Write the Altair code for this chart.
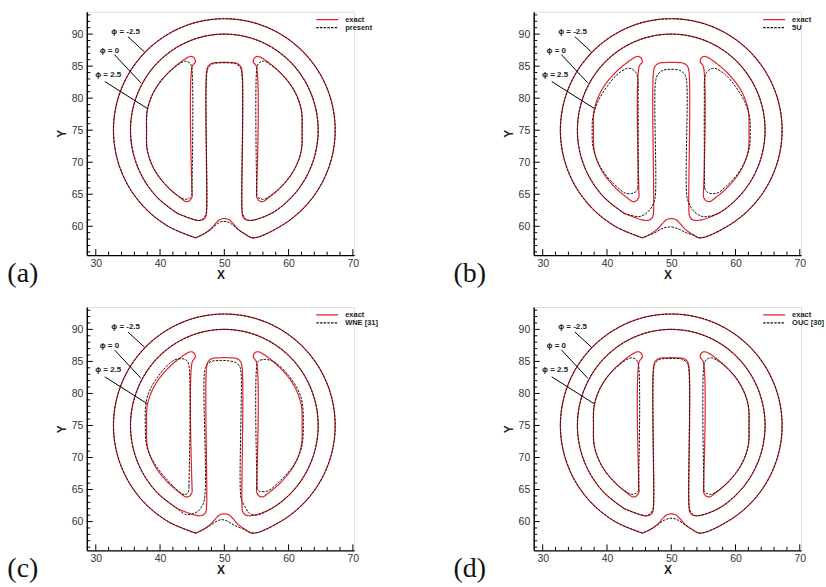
import altair as alt
import pandas as pd

# ---------------------------------------------------------------------------
# Contour coordinates (Zalesak slotted disk after one revolution)
# ---------------------------------------------------------------------------

# phi = -2.5 : outer ring, clockwise from bottom-left of the notch bump
OUTER_ARC_X = [45.53, 41.38, 37.80, 35.06, 33.34, 32.75, 33.34, 35.06, 37.80, 41.38, 45.53, 50.00,
               54.47, 58.62, 62.20, 64.94, 66.66, 67.25, 66.66, 64.94, 62.20, 58.62, 54.47]
OUTER_ARC_Y = [58.19, 59.93, 62.70, 66.30, 70.49, 75.00, 79.51, 83.70, 87.30, 90.07, 91.81, 92.40,
               91.81, 90.07, 87.30, 83.70, 79.51, 75.00, 70.49, 66.30, 62.70, 59.93, 58.19]

# bump under the slot (right to left)
BUMP_EXACT_X = [53.2, 52.1, 51.3, 50.6, 49.4, 48.7, 47.9, 46.8]
BUMP_EXACT_Y = [58.8, 59.6, 60.5, 61.1, 61.1, 60.5, 59.6, 58.8]
BUMP_A_X = [53.2, 52.1, 51.2, 50.5, 49.5, 48.8, 47.9, 46.8]
BUMP_A_Y = [58.8, 59.5, 60.3, 60.7, 60.7, 60.3, 59.5, 58.8]
BUMP_B_X = [53.5, 52.3, 51.1, 49.8, 48.5, 47.5, 46.5]
BUMP_B_Y = [58.6, 59.0, 59.6, 59.9, 59.6, 59.0, 58.6]
BUMP_C_X = [53.0, 51.6, 50.4, 49.6, 48.9, 47.8, 46.6]
BUMP_C_Y = [58.8, 59.4, 60.1, 60.3, 60.1, 59.4, 58.7]
BUMP_D_X = [53.2, 52.1, 51.1, 50.3, 49.7, 48.9, 47.9, 46.8]
BUMP_D_Y = [58.8, 59.5, 60.2, 60.5, 60.5, 60.2, 59.5, 58.8]

# phi = 0 : disk boundary, clockwise from bottom-left of the disk
MID_ARC_X = [42.70, 39.68, 37.36, 35.90, 35.40, 35.90, 37.36, 39.68, 42.70, 46.22, 50.00,
             53.78, 57.30, 60.32, 62.64, 64.10, 64.60, 64.10, 62.64, 60.32, 57.30]
MID_ARC_Y = [62.01, 64.39, 67.50, 71.12, 75.00, 78.88, 82.50, 85.61, 87.99, 89.49, 90.00,
             89.49, 87.99, 85.61, 82.50, 78.88, 75.00, 71.12, 67.50, 64.39, 62.01]

# slot of the disk: bottom right, up the right wall, across the top, down the left wall
SLOT_EXACT_X = [54.0, 53.2, 52.85, 52.75, 52.75, 52.5, 51.9, 51.2, 48.8, 48.1, 47.5, 47.25, 47.25, 47.15, 46.8, 46.0]
SLOT_EXACT_Y = [60.9, 61.1, 61.6, 62.5, 84.2, 85.0, 85.45, 85.55, 85.55, 85.45, 85.0, 84.2, 62.5, 61.6, 61.1, 60.9]
SLOT_A_X = [54.0, 53.3, 52.9, 52.75, 52.7, 52.4, 51.7, 50.8, 49.2, 48.3, 47.6, 47.3, 47.25, 47.1, 46.7, 46.0]
SLOT_A_Y = [60.9, 61.2, 61.8, 62.8, 84.0, 84.9, 85.4, 85.5, 85.5, 85.4, 84.9, 84.0, 62.8, 61.8, 61.2, 60.9]
SLOT_B_X = [55.1, 54.2, 53.3, 52.8, 52.45, 52.4, 52.1, 51.3, 50.0, 48.7, 47.9, 47.55, 47.5, 47.2, 46.7, 45.8, 44.9]
SLOT_B_Y = [61.5, 61.8, 62.6, 63.5, 64.5, 82.5, 83.7, 84.35, 84.5, 84.35, 83.7, 82.5, 64.5, 63.5, 62.6, 61.8, 61.5]
SLOT_C_X = [55.0, 53.9, 53.4, 52.9, 52.6, 52.6, 52.4, 51.8, 50.6, 49.2, 48.0, 47.3, 46.95, 46.9, 46.4, 45.9, 45.0, 44.0]
SLOT_C_Y = [61.0, 61.3, 62.0, 62.9, 63.6, 83.3, 84.2, 84.8, 85.1, 85.15, 85.0, 84.5, 83.6, 63.4, 62.2, 61.6, 61.2, 61.1]
SLOT_D_X = [54.0, 53.3, 52.9, 52.75, 52.7, 52.4, 51.7, 50.8, 49.2, 48.3, 47.6, 47.3, 47.25, 47.1, 46.7, 46.0]
SLOT_D_Y = [60.9, 61.2, 61.8, 62.8, 84.0, 84.85, 85.35, 85.45, 85.45, 85.35, 84.85, 84.0, 62.8, 61.8, 61.2, 60.9]

# phi = 2.5 : left and right lobes
DL_EXACT_X = [45.0, 45.0, 45.5, 45.2, 44.7, 43.8, 41.16, 39.17, 38.05, 37.9, 38.05, 39.17, 41.16, 43.2, 44.0, 44.6]
DL_EXACT_Y = [64.6, 84.9, 85.7, 86.4, 86.5, 86.05, 83.84, 81.25, 78.3, 75.0, 71.7, 68.75, 66.16, 64.4, 63.85, 64.0]
DR_EXACT_X = [55.0, 55.0, 54.5, 54.8, 55.3, 56.2, 58.84, 60.83, 61.95, 62.1, 61.95, 60.83, 58.84, 56.8, 56.0, 55.4]
DR_EXACT_Y = [64.6, 84.9, 85.7, 86.4, 86.5, 86.05, 83.84, 81.25, 78.3, 75.0, 71.7, 68.75, 66.16, 64.4, 63.85, 64.0]

DL_A_X = [44.95, 44.95, 44.7, 44.1, 43.6, 41.16, 39.17, 38.05, 37.9, 38.05, 39.17, 41.16, 43.2, 43.9, 44.6]
DL_A_Y = [64.8, 84.6, 85.4, 85.75, 85.7, 83.84, 81.25, 78.3, 75.0, 71.7, 68.75, 66.16, 64.5, 64.2, 64.4]
DR_A_X = [55.05, 55.05, 55.3, 55.9, 56.4, 58.84, 60.83, 61.95, 62.1, 61.95, 60.83, 58.84, 56.8, 56.1, 55.4]
DR_A_Y = [64.8, 84.6, 85.4, 85.75, 85.7, 83.84, 81.25, 78.3, 75.0, 71.7, 68.75, 66.16, 64.5, 64.2, 64.4]

DL_B_X = [44.8, 44.85, 44.85, 44.8, 44.5, 43.8, 43.0, 41.5, 40.0, 38.6, 37.8, 37.7, 37.8, 38.5, 39.8, 41.5, 42.8, 43.8, 44.5]
DL_B_Y = [66.0, 70.0, 80.0, 83.0, 84.0, 84.6, 84.6, 83.6, 81.8, 79.5, 77.0, 75.0, 72.5, 70.2, 68.0, 66.2, 65.2, 65.1, 65.4]
DR_B_X = [55.2, 55.15, 55.15, 55.2, 55.5, 56.2, 57.0, 58.5, 60.0, 61.4, 62.2, 62.3, 62.2, 61.5, 60.2, 58.5, 57.2, 56.2, 55.5]
DR_B_Y = [66.0, 70.0, 80.0, 83.0, 84.0, 84.6, 84.6, 83.6, 81.8, 79.5, 77.0, 75.0, 72.5, 70.2, 68.0, 66.2, 65.2, 65.1, 65.4]

DL_C_X = [44.5, 44.5, 44.2, 43.6, 42.2, 39.8, 38.0, 37.7, 38.0, 39.3, 41.3, 43.3, 43.9, 44.4]
DL_C_Y = [65.5, 84.3, 85.1, 85.4, 85.2, 82.8, 79.4, 75.0, 71.5, 68.8, 66.3, 64.4, 64.2, 64.6]
DR_C_X = [55.1, 55.1, 55.4, 56.2, 57.6, 60.0, 61.9, 62.3, 62.0, 60.8, 58.8, 56.8, 55.6, 55.2]
DR_C_Y = [65.2, 84.6, 85.1, 85.3, 85.0, 82.8, 79.5, 75.0, 71.5, 68.8, 66.5, 64.8, 64.7, 64.9]

DL_D_X = [44.9, 44.9, 44.6, 44.0, 43.5, 41.16, 39.17, 38.05, 37.9, 38.05, 39.17, 41.16, 43.2, 43.9, 44.5]
DL_D_Y = [64.8, 84.5, 85.2, 85.55, 85.5, 83.84, 81.25, 78.3, 75.0, 71.7, 68.75, 66.16, 64.5, 64.25, 64.4]
DR_D_X = [55.1, 55.1, 55.4, 56.0, 56.5, 58.84, 60.83, 61.95, 62.1, 61.95, 60.83, 58.84, 56.8, 56.1, 55.5]
DR_D_Y = [64.8, 84.5, 85.2, 85.55, 85.5, 83.84, 81.25, 78.3, 75.0, 71.7, 68.75, 66.16, 64.5, 64.25, 64.4]

# Axis ticks
X_MAJOR = [30, 40, 50, 60, 70]
X_MINOR = [32, 34, 36, 38, 42, 44, 46, 48, 52, 54, 56, 58, 62, 64, 66, 68]
Y_MAJOR = [60, 65, 70, 75, 80, 85, 90]
Y_MINOR = [56, 57, 58, 59, 61, 62, 63, 64, 66, 67, 68, 69, 71, 72, 73, 74,
           76, 77, 78, 79, 81, 82, 83, 84, 86, 87, 88, 89, 91, 92, 93]

# Level annotations: label anchor and leader line end points
ANN_TEXT = ["ϕ = -2.5", "ϕ = 0", "ϕ = 2.5"]
ANN_TX = [32.4, 30.6, 29.9]
ANN_TY = [90.4, 87.4, 83.6]
ANN_X1 = [35.0, 32.9, 31.4]
ANN_Y1 = [89.6, 86.8, 82.6]
ANN_X2 = [37.6, 37.0, 38.0]
ANN_Y2 = [87.2, 82.4, 78.4]

PANELS = [
    dict(letter="(a)", name="present", bump=(BUMP_A_X, BUMP_A_Y), slot=(SLOT_A_X, SLOT_A_Y),
         dl=(DL_A_X, DL_A_Y), dr=(DR_A_X, DR_A_Y)),
    dict(letter="(b)", name="5U", bump=(BUMP_B_X, BUMP_B_Y), slot=(SLOT_B_X, SLOT_B_Y),
         dl=(DL_B_X, DL_B_Y), dr=(DR_B_X, DR_B_Y)),
    dict(letter="(c)", name="WNE [31]", bump=(BUMP_C_X, BUMP_C_Y), slot=(SLOT_C_X, SLOT_C_Y),
         dl=(DL_C_X, DL_C_Y), dr=(DR_C_X, DR_C_Y)),
    dict(letter="(d)", name="OUC [30]", bump=(BUMP_D_X, BUMP_D_Y), slot=(SLOT_D_X, SLOT_D_Y),
         dl=(DL_D_X, DL_D_Y), dr=(DR_D_X, DR_D_Y)),
]

RED = "#e3202b"
BLACK = "#151515"
SANS = "Liberation Sans"
W, H = 268, 244
X_SCALE = alt.Scale(domain=[28.6, 70.2], nice=False, zero=False)
Y_SCALE = alt.Scale(domain=[55.5, 93.5], nice=False, zero=False)

X_AXIS = alt.Axis(values=X_MAJOR, ticks=False, grid=False, domainColor="black", domainWidth=1.4,
                  labelFont=SANS, labelFontSize=10.5, labelColor="#333", labelPadding=3,
                  titleFont=SANS, titleFontSize=12, titleFontWeight="bold", titleColor="#222",
                  titlePadding=1, format="d")
Y_AXIS = alt.Axis(values=Y_MAJOR, ticks=False, grid=False, domainColor="black", domainWidth=1.4,
                  labelFont=SANS, labelFontSize=10.5, labelColor="#333", labelPadding=4,
                  titleFont=SANS, titleFontSize=12, titleFontWeight="bold", titleColor="#222",
                  titlePadding=3, format="d")


def xenc(field):
    return alt.X(field, scale=X_SCALE, axis=X_AXIS, title="X")


def yenc(field):
    return alt.Y(field, scale=Y_SCALE, axis=Y_AXIS, title="Y")


def joined(*parts):
    """Concatenate (xs, ys) pieces into one closed contour."""
    xs, ys = [], []
    for px, py in parts:
        xs += list(px)
        ys += list(py)
    return xs + xs[:1], ys + ys[:1]


def frame(series, contours):
    rows = []
    for k, (xs, ys) in enumerate(contours):
        for i, (x, y) in enumerate(zip(xs, ys)):
            rows.append({"series": series, "cid": f"{series}-{k}", "i": i, "x": x, "y": y})
    return pd.DataFrame(rows)


def contours(bump, slot, dl, dr):
    return [
        joined((OUTER_ARC_X, OUTER_ARC_Y), bump),
        joined((MID_ARC_X, MID_ARC_Y), slot),
        joined(dl),
        joined(dr),
    ]


def panel(p):
    exact = frame("exact", contours((BUMP_EXACT_X, BUMP_EXACT_Y), (SLOT_EXACT_X, SLOT_EXACT_Y),
                                    (DL_EXACT_X, DL_EXACT_Y), (DR_EXACT_X, DR_EXACT_Y)))
    numer = frame(p["name"], contours(p["bump"], p["slot"], p["dl"], p["dr"]))

    legend = alt.Legend(title=None, orient="none", legendX=229, legendY=4, symbolType="stroke",
                        symbolSize=484, symbolStrokeWidth=1.2, labelFont=SANS, labelFontSize=7.5,
                        labelFontWeight="bold", labelColor="#222", clipHeight=8, rowPadding=0,
                        padding=0, labelOffset=6)
    domain = ["exact", p["name"]]
    color = alt.Color("series:N", scale=alt.Scale(domain=domain, range=[RED, BLACK]), legend=legend)
    dash = alt.StrokeDash("series:N", scale=alt.Scale(domain=domain, range=[[1, 0], [2.5, 1.2]]),
                          legend=legend)

    def lines(df, width):
        return alt.Chart(df).mark_line(strokeWidth=width, interpolate="catmull-rom").encode(
            x=xenc("x:Q"), y=yenc("y:Q"),
            color=color, strokeDash=dash, detail="cid:N", order="i:Q")

    def yticks(vals, length):
        return alt.Chart(pd.DataFrame({"v": vals})).mark_rule(color="black", strokeWidth=1).encode(
            y=yenc("v:Q"), x=alt.value(0), x2=alt.value(length))

    def xticks(vals, length):
        return alt.Chart(pd.DataFrame({"v": vals})).mark_rule(color="black", strokeWidth=1).encode(
            x=xenc("v:Q"), y=alt.value(H), y2=alt.value(H - length))

    ann = pd.DataFrame({"t": ANN_TEXT, "tx": ANN_TX, "ty": ANN_TY,
                        "x1": ANN_X1, "y1": ANN_Y1, "x2": ANN_X2, "y2": ANN_Y2})
    leaders = alt.Chart(ann).mark_rule(color="black", strokeWidth=1).encode(
        x=xenc("x1:Q"), y=yenc("y1:Q"), x2="x2:Q", y2="y2:Q")
    ann_text = alt.Chart(ann).mark_text(align="left", baseline="middle", font=SANS, fontSize=8,
                                        fontWeight="bold", color="#222").encode(
        x=xenc("tx:Q"), y=yenc("ty:Q"), text="t:N")

    tag = alt.Chart(pd.DataFrame({"t": [p["letter"]], "x": [18.65], "y": [52.6]})).mark_text(
        align="center", baseline="middle", font="Liberation Serif", fontSize=28, color="#111").encode(
        x=xenc("x:Q"), y=yenc("y:Q"), text="t:N")

    return alt.layer(
        lines(exact, 1.2), lines(numer, 1.0),
        yticks(Y_MAJOR, 6), yticks(Y_MINOR, 3.5), xticks(X_MAJOR, 6), xticks(X_MINOR, 3.5),
        leaders, ann_text, tag,
    ).properties(width=W, height=H)


# 2 x 2 grid; "flush" bounds make the spacing the gap between the plot frames
chart = alt.concat(*[panel(p) for p in PANELS], columns=2, bounds="flush",
                   spacing={"row": 52, "column": 180}).resolve_scale(
    color="independent", strokeDash="independent", x="independent", y="independent"
).resolve_legend(color="independent", strokeDash="independent").properties(
    padding={"left": 6, "top": 10, "right": 0, "bottom": 0}
).configure_view(stroke=None).configure(background="white")

chart.save("out.html", embed_options={"renderer": "svg", "actions": False})
